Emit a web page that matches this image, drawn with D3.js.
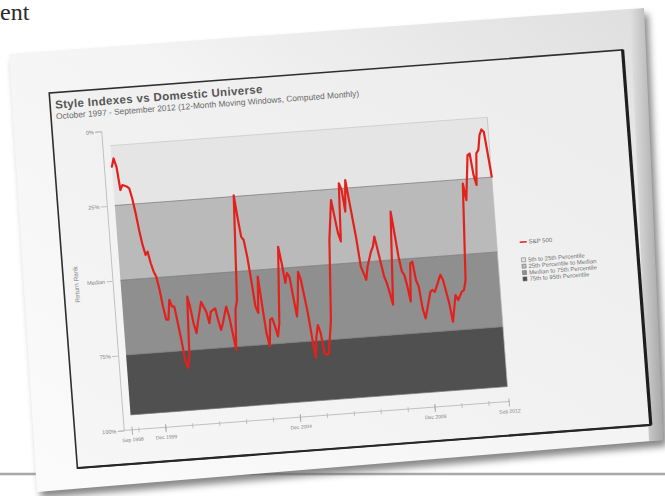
<!DOCTYPE html>
<html>
<head>
<meta charset="utf-8">
<script src="https://cdn.jsdelivr.net/npm/d3@7"></script>
<style>
  html, body { margin: 0; padding: 0; background: #ffffff; overflow: hidden; }
  svg { display: block; }
</style>
</head>
<body>
<svg id="page" width="665" height="496"></svg>
<script>
// ---- data -------------------------------------------------------------
const chartTitle = "Style Indexes vs Domestic Universe";
const chartSubtitle = "October 1997 - September 2012 (12-Month Moving Windows, Computed Monthly)";
const yAxisTitle = "Return Rank";

// percentile band edges (return rank, %) and their legend names
const bandEdges = [5, 25, 50, 75, 95];
const bandNames = ["5th to 25th Percentile", "25th Percentile to Median",
                   "Median to 75th Percentile", "75th to 95th Percentile"];
const bandColors = ["#e5e5e5", "#bababa", "#8f8f8f", "#505050"];

const yTickValues = [0, 25, 50, 75, 100];
const yTickLabels = ["0%", "25%", "Median", "75%", "100%"];

// x axis: first and last window end, labelled December ticks
const startMonth = "1998-09";
const endMonth = "2012-09";
const labelledTicks = ["1998-09", "1999-12", "2004-12", "2009-12", "2012-09"];
const tickYears = [1998, 1999, 2000, 2001, 2002, 2003, 2004, 2005, 2006, 2007, 2008, 2009, 2010, 2011];

// S&P 500 rolling 12-month return rank: months after the first window end, rank in %
const seriesName = "S&P 500";
const monthOffset = [0, 1, 2, 3, 4, 6, 7, 8, 9, 10, 11, 12, 13, 14, 15, 16, 17, 18, 19, 20,
  21, 22, 23, 24, 25, 26, 27, 28, 29, 30, 31, 32, 33, 35, 37, 38, 39, 41, 42, 43,
  44, 46, 47, 48, 49, 50, 51, 53, 54, 55, 56, 57, 58, 59, 60, 61, 62, 63, 64, 65,
  66, 67, 68, 69, 71, 72, 73, 74, 75, 76, 77, 78, 79, 80, 81, 82, 83, 84, 85, 86,
  87, 88, 89, 90, 92, 94, 96, 97, 98, 99, 100, 101, 102, 103, 104, 105, 106, 107, 108, 109,
  110, 112, 113, 114, 115, 116, 117, 118, 119, 120, 122, 123, 124, 125, 126, 127, 128, 129, 130, 131,
  132, 133, 134, 137, 138, 139, 142, 143, 145, 146, 148, 149, 151, 152, 153, 155, 156, 158, 159, 160,
  161, 162, 163, 164, 165, 166, 167, 168];
const sp500Rank = [12.0, 9.3, 12.1, 20.0, 18.4, 19.0, 19.7, 23.1, 28.1, 33.8, 38.8, 42.2, 41.2, 45.1, 47.9, 49.7, 54.1, 59.7, 64.2, 64.3,
  57.7, 60.0, 60.1, 65.7, 71.3, 78.0, 80.8, 77.0, 57.1, 60.5, 66.1, 69.5, 65.7, 59.2, 62.6, 66.5, 62.7, 61.7, 65.6, 69.0,
  66.9, 61.4, 64.8, 70.4, 76.0, 62.7, 59.5, 24.6, 31.9, 38.6, 39.7, 45.3, 53.1, 62.1, 64.3, 52.2, 62.2, 71.2, 75.7, 66.9,
  66.4, 69.2, 72.6, 68.2, 42.8, 48.3, 55.0, 51.8, 53.0, 59.7, 66.4, 60.9, 51.6, 54.4, 60.0, 65.6, 73.5, 80.7, 73.6, 69.8,
  72.6, 79.3, 80.0, 79.5, 68.5, 41.8, 28.6, 34.2, 39.8, 42.6, 23.2, 25.5, 32.8, 22.3, 29.0, 35.7, 42.4, 51.4, 53.7, 56.0,
  51.6, 46.7, 45.1, 41.8, 46.3, 50.8, 55.3, 57.6, 61.0, 64.9, 33.9, 41.2, 49.1, 54.1, 55.3, 59.2, 64.3, 51.6, 51.1, 57.3,
  59.6, 66.8, 70.3, 61.5, 61.0, 61.7, 56.2, 58.0, 65.9, 72.1, 63.3, 65.0, 62.3, 61.8, 58.6, 26.4, 32.0, 17.1, 16.6, 23.8,
  27.2, 16.7, 15.6, 10.7, 8.9, 9.7, 17.0, 24.8];

// ---- page ---------------------------------------------------------------
const svg = d3.select("#page");
const defs = svg.append("defs");

const paperGrad = defs.append("linearGradient").attr("id", "paperGrad")
  .attr("x1", "0%").attr("y1", "100%").attr("x2", "100%").attr("y2", "0%");
paperGrad.append("stop").attr("offset", "0%").attr("stop-color", "#fbfbfb");
paperGrad.append("stop").attr("offset", "55%").attr("stop-color", "#f4f4f4");
paperGrad.append("stop").attr("offset", "100%").attr("stop-color", "#dedede");

const rimGrad = defs.append("linearGradient").attr("id", "rimGrad")
  .attr("x1", "0%").attr("y1", "0%").attr("x2", "100%").attr("y2", "0%");
rimGrad.append("stop").attr("offset", "0%").attr("stop-color", "#000").attr("stop-opacity", 0);
rimGrad.append("stop").attr("offset", "100%").attr("stop-color", "#000").attr("stop-opacity", 0.32);

const sheetGrad = defs.append("linearGradient").attr("id", "sheetGrad")
  .attr("x1", "0%").attr("y1", "100%").attr("x2", "100%").attr("y2", "0%");
sheetGrad.append("stop").attr("offset", "0%").attr("stop-color", "#f6f6f6");
sheetGrad.append("stop").attr("offset", "100%").attr("stop-color", "#ececec");

defs.append("filter").attr("id", "shadowBlur")
  .attr("x", "-10%").attr("y", "-10%").attr("width", "120%").attr("height", "120%")
  .append("feGaussianBlur").attr("stdDeviation", 3.5);

// running text fragment and rule from the surrounding page
svg.append("text").attr("x", 0).attr("y", 20)
  .attr("font-family", "'Liberation Serif', 'DejaVu Serif', serif")
  .attr("font-size", 24).attr("fill", "#2a2a2a").text("ent");
svg.append("line").attr("x1", 0).attr("x2", 665).attr("y1", 474).attr("y2", 474)
  .attr("stroke", "#a8a8a8").attr("stroke-width", 2.5);

// the printed sheet, lying slightly tilted
const sheetCorners = [[9, 54], [644, 8], [663, 440], [37, 492]];
const line = d3.line().curve(d3.curveLinearClosed);
svg.append("path").attr("d", line(sheetCorners.map(p => [p[0] + 4, p[1] + 6])))
  .attr("fill", "#5e5e5e").attr("opacity", 0.75).attr("filter", "url(#shadowBlur)");
svg.append("path").attr("d", line(sheetCorners))
  .attr("fill", "url(#paperGrad)");
// shaded rim along the right edge of the sheet
svg.append("path").attr("d", line([[630, 10], [644, 8], [663, 440], [649, 441]]))
  .attr("fill", "url(#rimGrad)");

// ---- chart (drawn flat, then tilted onto the sheet) --------------------
const W = 575, H = 376;
const g = svg.append("g")
  .attr("transform", `translate(350,259) rotate(-4.3) translate(${-W / 2},${-H / 2})`);

g.append("rect").attr("width", W).attr("height", H)
  .attr("fill", "url(#sheetGrad)").attr("stroke", "#2e2e2e").attr("stroke-width", 1.6);
g.append("line").attr("x1", W).attr("x2", W).attr("y1", 0).attr("y2", H)
  .attr("stroke", "#1e1e1e").attr("stroke-width", 3.2);
g.append("line").attr("x1", 0).attr("x2", W).attr("y1", H).attr("y2", H)
  .attr("stroke", "#262626").attr("stroke-width", 2.2);

g.append("text").attr("x", 5).attr("y", 16)
  .attr("font-family", "'Liberation Sans', Arial, sans-serif")
  .attr("font-weight", "bold").attr("font-size", 11.5).attr("letter-spacing", 0.35)
  .attr("fill", "#555").text(chartTitle);
g.append("text").attr("x", 5).attr("y", 26.5)
  .attr("font-family", "'Liberation Sans', Arial, sans-serif")
  .attr("font-size", 8.4).attr("fill", "#6a6a6a").text(chartSubtitle);

const parseMonth = d3.timeParse("%Y-%m");
const t0 = parseMonth(startMonth), t1 = parseMonth(endMonth);
const x = d3.scaleTime().domain([t0, t1]).range([57, 435]);
const y = d3.scaleLinear().domain([0, 100]).range([42, 342]);

// percentile bands
const bands = d3.range(bandNames.length).map(i => ({
  lo: bandEdges[i], hi: bandEdges[i + 1], color: bandColors[i], name: bandNames[i]
}));
g.append("g").selectAll("rect").data(bands).join("rect")
  .attr("x", x(t0)).attr("width", x(t1) - x(t0))
  .attr("y", d => y(d.lo)).attr("height", d => y(d.hi) - y(d.lo))
  .attr("fill", d => d.color);
g.append("g").selectAll("line").data(bandEdges).join("line")
  .attr("x1", x(t0)).attr("x2", x(t1)).attr("y1", d => y(d)).attr("y2", d => y(d))
  .attr("stroke", (d, i) => i === 0 ? "#c8c8c8" : "#777").attr("stroke-width", 0.7);
g.append("line").attr("x1", x(t1)).attr("x2", x(t1)).attr("y1", y(bandEdges[0])).attr("y2", y(bandEdges[4]))
  .attr("stroke", "#bbb").attr("stroke-width", 0.7);

// y axis
const yAxis = d3.axisLeft(y).tickValues(yTickValues)
  .tickFormat((d, i) => yTickLabels[i]).tickSize(6).tickPadding(1.5);
const gy = g.append("g").attr("transform", "translate(49,0)").call(yAxis);
gy.selectAll("path, line").attr("stroke", "#b5b5b5").attr("stroke-width", 0.8);
gy.selectAll("text").attr("font-family", "'Liberation Sans', Arial, sans-serif")
  .attr("font-size", 5.5).attr("fill", "#808080");

g.append("text").attr("transform", "translate(15,193) rotate(-90)")
  .attr("text-anchor", "middle").attr("font-family", "'Liberation Sans', Arial, sans-serif")
  .attr("font-size", 6.5).attr("fill", "#8a8a8a").text(yAxisTitle);

// x axis: the base line runs from the y axis to the last window
g.append("line").attr("x1", 49).attr("x2", x(t1) + 1).attr("y1", y(100)).attr("y2", y(100))
  .attr("stroke", "#b5b5b5").attr("stroke-width", 0.8);
const minorTicks = tickYears.map(yr => new Date(yr, 11, 1));
const gxMinor = g.append("g").attr("transform", `translate(0,${y(100)})`)
  .call(d3.axisBottom(x).tickValues(minorTicks).tickSize(3).tickFormat(""));
gxMinor.select(".domain").remove();
gxMinor.selectAll("line").attr("stroke", "#b0b0b0").attr("stroke-width", 0.7).attr("y1", -2);
const majorTicks = labelledTicks.map(parseMonth);
const gxMajor = g.append("g").attr("transform", `translate(0,${y(100)})`)
  .call(d3.axisBottom(x).tickValues(majorTicks).tickSize(5).tickPadding(3)
    .tickFormat(d3.timeFormat("%b %Y")));
gxMajor.select(".domain").remove();
gxMajor.selectAll("line").attr("stroke", "#a0a0a0").attr("stroke-width", 0.8).attr("y1", -3);
gxMajor.selectAll("text").attr("font-family", "'Liberation Sans', Arial, sans-serif")
  .attr("font-size", 5).attr("fill", "#808080");

// S&P 500 line
const points = monthOffset.map((m, i) => ({ date: d3.timeMonth.offset(t0, m), rank: sp500Rank[i] }));
g.append("path").datum(points)
  .attr("d", d3.line().x(d => x(d.date)).y(d => y(d.rank)).curve(d3.curveLinear))
  .attr("fill", "none").attr("stroke", "#e3211c").attr("stroke-width", 2.2)
  .attr("stroke-linejoin", "round").attr("stroke-linecap", "round");

// legend
const lg = g.append("g").attr("transform", "translate(458,0)")
  .attr("font-family", "'Liberation Sans', Arial, sans-serif").attr("font-size", 6).attr("fill", "#707070");
lg.append("line").attr("x1", 0).attr("x2", 7).attr("y1", 184).attr("y2", 184)
  .attr("stroke", "#e3211c").attr("stroke-width", 1.4);
lg.append("text").attr("x", 9).attr("y", 186).text(seriesName);
const items = lg.selectAll("g.item").data(bands).join("g").attr("class", "item")
  .attr("transform", (d, i) => `translate(0,${202 + i * 6.4})`);
items.append("rect").attr("x", 0.5).attr("y", -2.2).attr("width", 4).attr("height", 4)
  .attr("fill", d => d.color).attr("stroke", "#666").attr("stroke-width", 0.5);
items.append("text").attr("x", 7).attr("y", 2).text(d => d.name);
</script>
</body>
</html>
